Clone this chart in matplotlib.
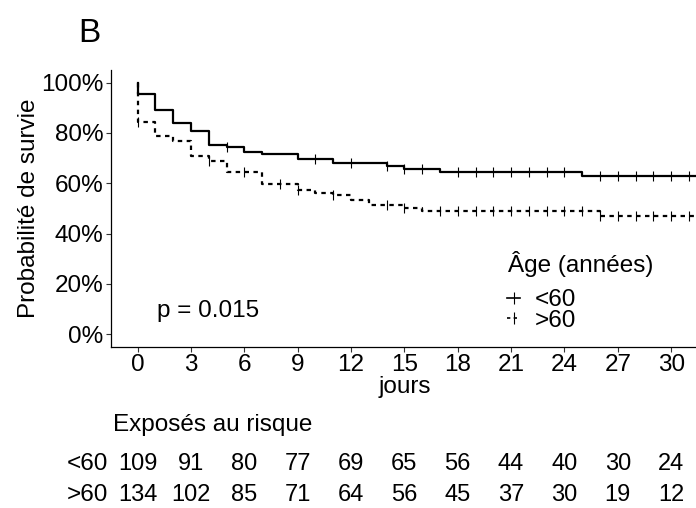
import numpy as np
import matplotlib
matplotlib.use("Agg")
import matplotlib.pyplot as plt
from matplotlib.lines import Line2D
from matplotlib.transforms import blended_transform_factory

plt.rcParams['font.family'] = ['Liberation Sans', 'DejaVu Sans']

# Kaplan-Meier steps (time in days, survival after the step)
times_lt60 = [0, 1, 2, 3, 4, 5, 6, 7, 9, 11, 14, 15, 17, 25]
surv_lt60 = [0.954, 0.891, 0.838, 0.807, 0.752, 0.745, 0.726, 0.716, 0.697,
             0.679, 0.668, 0.657, 0.645, 0.629]
censor_lt60 = [5, 10, 12, 14, 15, 16, 18, 19, 20, 21, 22, 23, 24,
               26, 27, 28, 29, 30, 31]

times_gt60 = [0, 1, 2, 3, 4, 5, 7, 9, 10, 11, 12, 13, 15, 16, 26]
surv_gt60 = [0.845, 0.787, 0.768, 0.710, 0.688, 0.646, 0.595, 0.573, 0.562,
             0.552, 0.533, 0.512, 0.502, 0.490, 0.468]
censor_gt60 = [0, 4, 6, 8, 9, 11, 14, 15, 17, 18, 19, 20, 21, 22, 23, 24,
               25, 26, 27, 28, 29, 30, 31]

end_time = 31.5

# Risk table
risk_times = [0, 3, 6, 9, 12, 15, 18, 21, 24, 27, 30]
risk_lt60 = [109, 91, 80, 77, 69, 65, 56, 44, 40, 30, 24]
risk_gt60 = [134, 102, 85, 71, 64, 56, 45, 37, 30, 19, 12]

groups = ["<60", ">60"]
styles = ["-", (0, (2, 2))]

FS = 17.5
W, H = 696, 508


def km_arrays(times, surv):
    t = np.concatenate([[0.0], times, [end_time]])
    s = np.concatenate([[1.0], surv, [surv[-1]]])
    return t, s


def surv_at(times, surv, ct):
    idx = np.searchsorted(times, ct, side='right') - 1
    s = np.asarray(surv)
    return np.where(idx < 0, 1.0, s[np.clip(idx, 0, None)])


fig = plt.figure(figsize=(W / 100, H / 100), dpi=100)
ax = fig.add_axes([111 / W, 1 - 346.7 / H, (697.8 - 111) / W, (346.7 - 70) / H])

data = [(times_lt60, surv_lt60, censor_lt60), (times_gt60, surv_gt60, censor_gt60)]
handles = []
for (tt, ss, cc), ls, name in zip(data, styles, groups):
    t, s = km_arrays(tt, ss)
    ax.step(t, s, where='post', color='black', lw=1.6, linestyle=ls)
    ax.plot(cc, surv_at(tt, ss, cc), linestyle='none', marker='|',
            ms=7.5, mew=0.8, color='black')
    handles.append(Line2D([], [], color='black', lw=1.2, linestyle=ls,
                          marker='|', ms=8, mew=0.8))

ax.set_xlim(-1.5, 31.5)
ax.set_ylim(-0.05, 1.05)
ax.set_xticks(risk_times)
ax.set_yticks([0, 0.2, 0.4, 0.6, 0.8, 1.0])
ax.set_yticklabels(["0%", "20%", "40%", "60%", "80%", "100%"])
for side in ['top', 'right']:
    ax.spines[side].set_visible(False)
for side in ['left', 'bottom']:
    ax.spines[side].set_linewidth(0.9)
ax.tick_params(labelsize=FS, length=3.5, width=0.8, color='#333333', pad=2.0)

ax.set_xlabel("jours", fontsize=FS, labelpad=0)
ax.set_ylabel("Probabilité de survie", fontsize=FS, labelpad=1)

ax.text(1.1, 0.09, "p = 0.015", fontsize=FS, ha='left', va='center')

# legend: title as text, keys as legend
fig.text(508 / W, 1 - 264 / H, "Âge (années)", fontsize=FS, ha='left', va='center')
leg = ax.legend(handles, groups, loc='upper left',
                bbox_to_anchor=(507 / W, 1 - 289 / H),
                bbox_transform=fig.transFigure, frameon=False,
                fontsize=FS, handlelength=0.55, handletextpad=0.6,
                labelspacing=-0.06, borderpad=0, borderaxespad=0,
                numpoints=1)

fig.text(78 / W, 1 - 34 / H, "B", fontsize=24, ha='left', va='center')

# risk table
fig.text(113 / W, 1 - 425 / H, "Exposés au risque", fontsize=FS,
         ha='left', va='center')
trans = blended_transform_factory(ax.transData, fig.transFigure)
for name, counts, yp in zip(groups, [risk_lt60, risk_gt60], [464.3, 495]):
    yf = 1 - yp / H
    fig.text(108 / W, yf, name, fontsize=FS, ha='right', va='center')
    for t, n in zip(risk_times, counts):
        ax.text(t, yf, str(n), transform=trans, fontsize=17,
                ha='center', va='center', clip_on=False)

fig.savefig("out.png", dpi=100)
